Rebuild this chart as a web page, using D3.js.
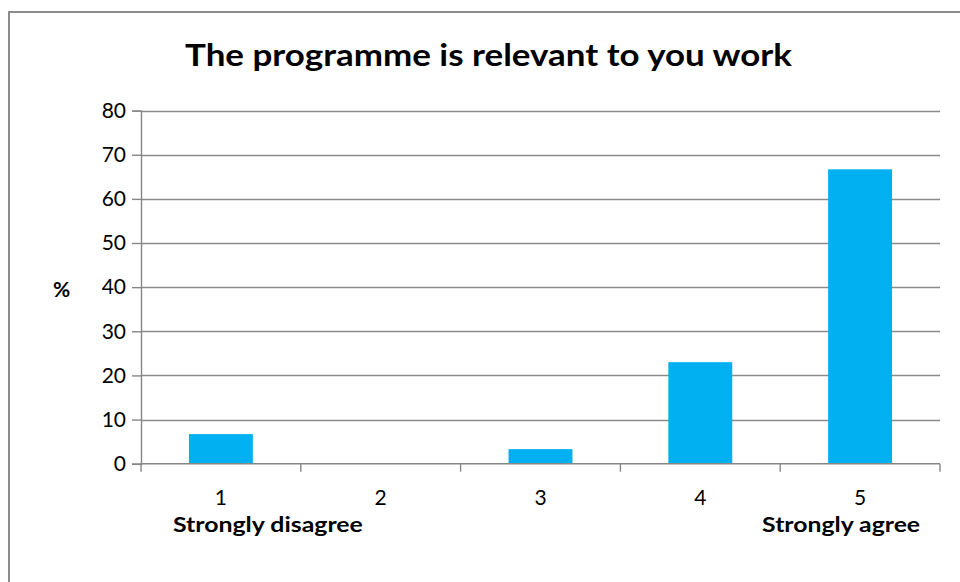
<!DOCTYPE html>
<html>
<head>
<meta charset="utf-8">
<script src="https://cdn.jsdelivr.net/npm/d3@7"></script>
<style>
  html, body { margin: 0; padding: 0; background: #fff; }
  svg { display: block; }
  text { font-family: Lato, "Open Sans", sans-serif; fill: #000; }
</style>
</head>
<body>
<svg id="chart" width="960" height="582"></svg>
<script>
const title = "The programme is relevant to you work";
const categories = ["1", "2", "3", "4", "5"];
const values = [6.7, 0, 3.3, 23, 66.7];
const yTicks = [0, 10, 20, 30, 40, 50, 60, 70, 80];
const yLabel = "%";
const endLabels = [{cat: "1", text: "Strongly disagree"}, {cat: "5", text: "Strongly agree"}];

const svg = d3.select("#chart");
const W = 960, H = 582;
const m = {left: 141, right: 940, top: 110.6, bottom: 463.7};

// outer chart border (extends past right/bottom edge)
svg.append("rect")
  .attr("x", 9).attr("y", 12)
  .attr("width", W + 20).attr("height", H + 20)
  .attr("fill", "none").attr("stroke", "#8c8c8c").attr("stroke-width", 2);

const x = d3.scaleBand().domain(categories).range([m.left, m.right])
  .paddingInner(0.6).paddingOuter(0.3);
const y = d3.scaleLinear().domain([0, 80]).range([m.bottom, m.top]);

// gridlines
svg.append("g").selectAll("line").data(yTicks.filter(d => d > 0)).join("line")
  .attr("x1", m.left).attr("x2", m.right)
  .attr("y1", d => Math.round(y(d)) + 0.5).attr("y2", d => Math.round(y(d)) + 0.5)
  .attr("stroke", "#8a8a8a").attr("stroke-width", 1.4);

// bars
svg.append("g").selectAll("rect").data(values).join("rect")
  .attr("x", (d, i) => x(categories[i]))
  .attr("width", x.bandwidth())
  .attr("y", d => y(d))
  .attr("height", d => y(0) - y(d))
  .attr("fill", "#00b0f0");

// y axis
const yAxis = svg.append("g").attr("transform", `translate(${m.left},0)`)
  .call(d3.axisLeft(y).tickValues(yTicks).tickSize(9).tickPadding(6).tickFormat(d3.format("d")));
yAxis.select(".domain").attr("stroke", "#868686").attr("stroke-width", 1.4);
yAxis.selectAll(".tick line").attr("stroke", "#868686").attr("stroke-width", 1.4);
yAxis.selectAll(".tick text").style("font-size", "21px").style("font-family", "Lato, 'Open Sans', sans-serif").attr("fill", "#000");

// x axis line and boundary ticks
const step = x.step();
const bounds = categories.map(c => x(c) - step * x.paddingInner() / 2).concat([m.right]);
svg.append("line").attr("x1", m.left).attr("x2", m.right)
  .attr("y1", y(0)).attr("y2", y(0))
  .attr("stroke", "#868686").attr("stroke-width", 1.4);
svg.append("g").selectAll("line").data(bounds).join("line")
  .attr("x1", d => d).attr("x2", d => d)
  .attr("y1", y(0)).attr("y2", y(0) + 8)
  .attr("stroke", "#868686").attr("stroke-width", 1.4);

// category labels
svg.append("g").selectAll("text").data(categories).join("text")
  .attr("x", d => x(d) + x.bandwidth() / 2)
  .attr("y", 505)
  .attr("text-anchor", "middle")
  .style("font-size", "21px")
  .text(d => d);

// end labels (offsets relative to band centre)
const endLabelPos = {"1": {dx: -48, len: 190}, "5": {dx: -98, len: 158}};
svg.append("g").selectAll("text").data(endLabels).join("text")
  .attr("x", d => x(d.cat) + x.bandwidth() / 2 + endLabelPos[d.cat].dx)
  .attr("y", 532)
  .attr("textLength", d => endLabelPos[d.cat].len)
  .attr("lengthAdjust", "spacingAndGlyphs")
  .style("font-size", "21px").style("font-weight", "bold")
  .text(d => d.text);

// y label
svg.append("text").attr("x", 61.5).attr("y", 297)
  .attr("text-anchor", "middle")
  .style("font-size", "21px").style("font-weight", "bold")
  .text(yLabel);

// title
svg.append("text").attr("x", 185).attr("y", 66)
  .attr("textLength", 607).attr("lengthAdjust", "spacingAndGlyphs")
  .style("font-size", "31px").style("font-weight", "bold")
  .text(title);
</script>
</body>
</html>
